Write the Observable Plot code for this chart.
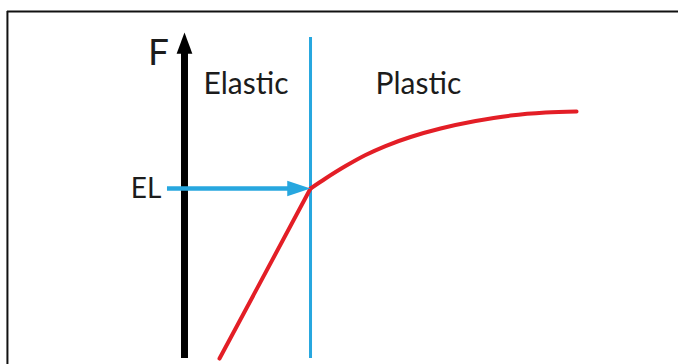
<!DOCTYPE html>
<html>
<head>
<meta charset="utf-8">
<script src="https://cdn.jsdelivr.net/npm/d3@7"></script>
<script src="https://cdn.jsdelivr.net/npm/@observablehq/plot@0.6"></script>
<style>
  html, body { margin: 0; padding: 0; background: #fff; }
</style>
</head>
<body>
<div id="chart"></div>
<script>
// ---- data (strain normalised to elastic limit = 1, force normalised to EL = 1) ----
const elasticStrain = [0.278, 1.0];
const elasticForce  = [0.0, 1.0];

const plasticStrain = [1.0, 1.119, 1.278, 1.437, 1.595, 1.794, 2.032, 2.310, 2.587, 2.865, 3.111];
const plasticForce  = [1.0, 1.059, 1.132, 1.197, 1.250, 1.303, 1.353, 1.397, 1.429, 1.447, 1.453];

const elasticLimitStrain = 1.0;
const elasticLimitForce = 1.0;

const regionLabels = ["Elastic", "Plastic"];
const regionLabelStrain = [0.151, 1.516];
const regionLabelForce = 1.615;

const axisLabel = "F";
const elLabel = "EL";

// extents of the drawing
const xDomain = [-1.46, 3.92];
const yDomain = [-0.035, 2.106];
const frameLeft = -1.405;
const frameTop = 2.041;
const forceAxisTop = 1.918;
const limitLineTop = 1.888;
const elArrowStart = -0.135;

// ---- build tables ----
const elastic = elasticStrain.map((x, i) => ({x, y: elasticForce[i]}));
const plastic = plasticStrain.map((x, i) => ({x, y: plasticForce[i]}));
const regions = regionLabels.map((t, i) => ({t, x: regionLabelStrain[i], y: regionLabelForce}));

// filled arrow-head symbols, tip at the anchor point
const headUp = {draw(ctx, size) { const s = Math.sqrt(size) * 0.75; ctx.moveTo(0, 0); ctx.lineTo(s * 0.37, s); ctx.lineTo(-s * 0.37, s); ctx.closePath(); }};
const headRight = {draw(ctx, size) { const s = Math.sqrt(size) * 0.75; ctx.moveTo(0, 0); ctx.lineTo(-s, -s * 0.33); ctx.lineTo(-s, s * 0.33); ctx.closePath(); }};

const RED = "#e31e26";
const BLUE = "#27a7df";
const INK = "#1c1c1c";

const chart = Plot.plot({
  width: 678,
  height: 364,
  margin: 0,
  style: {fontFamily: "Lato, 'Open Sans', sans-serif", background: "#fff"},
  x: {domain: xDomain, axis: null},
  y: {domain: yDomain, axis: null},
  marks: [
    // picture frame (top and left edges)
    Plot.ruleY([frameTop], {x1: frameLeft, x2: xDomain[1], stroke: "#111", strokeWidth: 2}),
    Plot.ruleX([frameLeft], {y1: yDomain[0], y2: frameTop, stroke: "#111", strokeWidth: 2}),

    // elastic-limit vertical line
    Plot.ruleX([elasticLimitStrain], {y1: 0, y2: limitLineTop, stroke: BLUE, strokeWidth: 3}),

    // force axis with arrow
    Plot.ruleX([0], {y1: 0, y2: forceAxisTop - 0.08, stroke: "#000", strokeWidth: 7}),
    Plot.dot([{x: 0, y: forceAxisTop}], {x: "x", y: "y", r: 16, symbol: headUp, fill: "#000", stroke: null}),

    // stress-strain curve
    Plot.line(elastic, {x: "x", y: "y", stroke: RED, strokeWidth: 4, curve: "linear"}),
    Plot.line(plastic, {x: "x", y: "y", stroke: RED, strokeWidth: 4, curve: "catmull-rom"}),

    // EL arrow
    Plot.ruleY([elasticLimitForce], {x1: elArrowStart, x2: elasticLimitStrain - 0.12, stroke: BLUE, strokeWidth: 4.5}),
    Plot.dot([{x: elasticLimitStrain, y: elasticLimitForce}], {x: "x", y: "y", r: 17.5, symbol: headRight, fill: BLUE, stroke: null}),

    // labels
    Plot.text(regions, {x: "x", y: "y", text: "t", textAnchor: "start", lineAnchor: "middle", fontSize: 30, fill: INK}),
    Plot.text([axisLabel], {x: () => -0.206, y: () => 1.794, text: d => d, textAnchor: "middle", lineAnchor: "middle", fontSize: 37, fill: INK}),
    Plot.text([elLabel], {x: () => -0.183, y: () => elasticLimitForce, text: d => d, textAnchor: "end", lineAnchor: "middle", fontSize: 28, fill: INK})
  ]
});
document.getElementById("chart").appendChild(chart);
</script>
</body>
</html>
